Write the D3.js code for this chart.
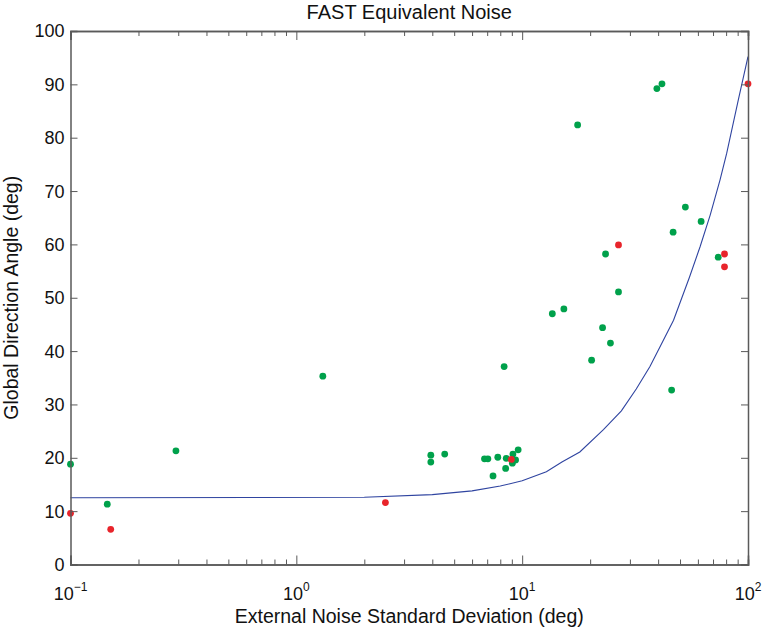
<!DOCTYPE html>
<html>
<head>
<meta charset="utf-8">
<script src="https://cdn.jsdelivr.net/npm/d3@7"></script>
<style>
  html, body { margin: 0; padding: 0; background: #fff; }
  text { font-family: "Liberation Sans", Arial, Helvetica, sans-serif; fill: #111; }
</style>
</head>
<body>
<svg id="chart" width="763" height="628"></svg>
<script>
// ---- data ----
const title = "FAST Equivalent Noise";
const xLabel = "External Noise Standard Deviation (deg)";
const yLabel = "Global Direction Angle (deg)";

const greenX = [0.1, 0.1455, 0.293, 1.31, 3.94, 3.94, 4.54, 6.81, 7.05, 7.43, 7.80, 8.32, 8.45, 8.5, 9.05, 9.1, 9.35, 9.6, 13.6, 15.3, 17.6, 20.3, 22.7, 23.4, 24.6, 26.7, 39.5, 41.6, 45.9, 46.6, 52.8, 62.0, 73.8];
const greenY = [18.8, 11.3, 21.3, 35.3, 20.5, 19.2, 20.7, 19.8, 19.8, 16.6, 20.1, 37.1, 18.0, 19.9, 19.0, 20.7, 19.6, 21.5, 47.0, 47.9, 82.4, 38.3, 44.4, 58.2, 41.5, 51.1, 89.2, 90.1, 32.7, 62.3, 67.0, 64.3, 57.6];

const redX = [0.1, 0.1507, 2.48, 8.95, 26.7, 78.7, 78.7, 100];
const redY = [9.6, 6.6, 11.6, 19.7, 59.9, 58.2, 55.8, 90.1];

const fitX = [0.1, 2.0, 4.0, 6.0, 8.0, 10, 12.8, 15, 18, 22.9, 27.5, 32, 36.8, 41, 46.8, 55, 61.4, 68, 75.2, 80.5, 90.6, 100];
const fitY = [12.5, 12.6, 13.1, 13.8, 14.7, 15.7, 17.4, 19.2, 21.1, 25.3, 28.8, 32.9, 37.1, 41.0, 45.8, 53.8, 59.6, 65.5, 72.1, 77.1, 87.1, 95.2];

const yTicks = [0, 10, 20, 30, 40, 50, 60, 70, 80, 90, 100];
const xMajorTicks = [0.1, 1, 10, 100];
const xMajorExp = ["\u22121", "0", "1", "2"];

// ---- layout ----
const svg = d3.select("#chart");
const L = 70.5, R = 748, T = 31, B = 564.5;

const x = d3.scaleLog().domain([0.1, 100]).range([L, R]);
const y = d3.scaleLinear().domain([0, 100]).range([B, T]);

const axisColor = "#5a5a5a";

// minor ticks
const xMinor = [];
for (let d = 0.1; d < 100; d *= 10) {
  for (let k = 2; k <= 9; k++) xMinor.push(+(d * k).toPrecision(3));
}

// fit line
svg.append("path")
  .datum(fitX.map((v, i) => [v, fitY[i]]))
  .attr("fill", "none")
  .attr("stroke", "#2f44a0")
  .attr("stroke-width", 1.1)
  .attr("d", d3.line().x(d => x(d[0])).y(d => y(d[1])));

// points
svg.append("g").selectAll("circle")
  .data(greenX.map((v, i) => [v, greenY[i]]))
  .join("circle")
  .attr("cx", d => x(d[0])).attr("cy", d => y(d[1]))
  .attr("r", 3.4).attr("fill", "#00a14b");

svg.append("g").selectAll("circle")
  .data(redX.map((v, i) => [v, redY[i]]))
  .join("circle")
  .attr("cx", d => x(d[0])).attr("cy", d => y(d[1]))
  .attr("r", 3.4).attr("fill", "#e8242b");

// axes with inward ticks (MATLAB box style)
const axB = d3.axisBottom(x).tickValues(xMajorTicks).tickSize(-9).tickFormat("");
const axT = d3.axisTop(x).tickValues(xMajorTicks).tickSize(-9).tickFormat("");
const axBm = d3.axisBottom(x).tickValues(xMinor).tickSize(-5).tickFormat("");
const axTm = d3.axisTop(x).tickValues(xMinor).tickSize(-5).tickFormat("");
const axL = d3.axisLeft(y).tickValues(yTicks).tickSize(-7).tickFormat("");
const axR = d3.axisRight(y).tickValues(yTicks).tickSize(-7).tickFormat("");

function styleAxis(g) {
  g.selectAll(".domain").attr("stroke", axisColor).attr("stroke-width", 1.5);
  g.selectAll(".tick line").attr("stroke", axisColor).attr("stroke-width", 1);
}
svg.append("g").attr("transform", `translate(0,${B})`).call(axB).call(styleAxis);
svg.append("g").attr("transform", `translate(0,${T})`).call(axT).call(styleAxis);
svg.append("g").attr("transform", `translate(0,${B})`).call(axBm).call(styleAxis);
svg.append("g").attr("transform", `translate(0,${T})`).call(axTm).call(styleAxis);
svg.append("g").attr("transform", `translate(${L},0)`).call(axL).call(styleAxis);
svg.append("g").attr("transform", `translate(${R},0)`).call(axR).call(styleAxis);

// y tick labels
svg.append("g").selectAll("text")
  .data(yTicks)
  .join("text")
  .attr("x", L - 6).attr("y", d => y(d))
  .attr("dy", "0.36em")
  .attr("text-anchor", "end")
  .attr("font-size", 18)
  .text(d => d);

// x tick labels with superscripts
const xl = svg.append("g").selectAll("text")
  .data(xMajorTicks)
  .join("text")
  .attr("x", d => x(d)).attr("y", 600)
  .attr("text-anchor", "middle")
  .attr("font-size", 18);
xl.append("tspan").text("10");
xl.append("tspan").attr("dy", -9).attr("font-size", 12).text((d, i) => xMajorExp[i]);

// title and axis labels
svg.append("text").attr("x", (L + R) / 2).attr("y", 19)
  .attr("text-anchor", "middle").attr("font-size", 20).text(title);
svg.append("text").attr("x", (L + R) / 2).attr("y", 623)
  .attr("text-anchor", "middle").attr("font-size", 19.5).text(xLabel);
svg.append("text").attr("transform", `translate(18,${(T + B) / 2}) rotate(-90)`)
  .attr("text-anchor", "middle").attr("font-size", 19.5).text(yLabel);
</script>
</body>
</html>
